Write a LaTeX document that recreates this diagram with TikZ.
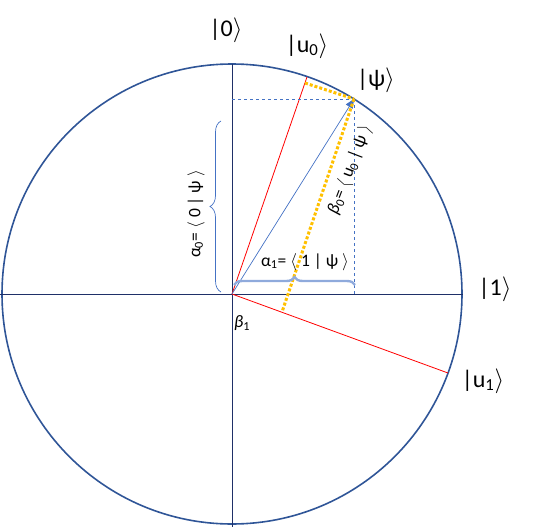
\documentclass[tikz,border=0pt]{standalone}
\usepackage{fontspec}
\setmainfont{Carlito}
\usetikzlibrary{arrows.meta,decorations.pathreplacing}

\begin{document}
\begin{tikzpicture}[x=1pt, y=-1pt,
  ket/.style = {font=\fontsize{24}{26}\selectfont},
  lab/.style = {font=\fontsize{17.5}{19}\selectfont, inner sep=0pt},
  axis/.style = {draw=navy, line width=1pt},
  basis/.style = {draw=red, line width=0.8pt},
  proj/.style = {draw=amber, line width=3pt, dotted},
  guide/.style = {draw=steel, line width=0.6pt, dashed}]
\definecolor{navy}{HTML}{1F3068}
\definecolor{ring}{HTML}{2F5597}
\definecolor{steel}{HTML}{4472C4}
\definecolor{pale}{HTML}{8FAADC}
\definecolor{amber}{HTML}{FFC000}
\useasboundingbox (0,0) rectangle (541,527);
\coordinate (O) at (232,294);
\coordinate (top) at (232,64);
\coordinate (bot) at (232,527);
\coordinate (left) at (0,294);
\coordinate (right) at (463,294);
\coordinate (psi) at (354,99);
\coordinate (u0) at (307,77);
\coordinate (u1) at (448,373);
\coordinate (f0) at (305,83);
\coordinate (f1) at (282,312);
\coordinate (px) at (354,294);
\coordinate (py) at (232,99);
% circle and axes
\draw[ring, line width=1.6pt] (O) circle[radius=230pt];
\draw[axis] (top) -- (bot);
\draw[axis] (left) -- (right);
% basis u
\draw[basis] (O) -- (u0);
\draw[basis] (O) -- (u1);
% state vector
\draw[guide] (py) -- (psi);
\draw[guide] (psi) -- (px);
\draw[steel, line width=0.7pt, -{Triangle[length=9pt,width=8pt]}] (O) -- (psi);
\draw[proj] (f0) -- (psi);
\draw[proj] (psi) -- (f1);
% braces
\draw[steel, line width=0.7pt, decorate, decoration={brace, amplitude=11pt}] (221,292) -- (221,121);
\draw[pale, line width=2.4pt, decorate, decoration={brace, amplitude=8pt}] (234,285) -- (355,285);
% labels
\node[ket] (k0) at (226,30) {|0$\rangle$};
\node[ket] (ku0) at (307,46) {|u\textsubscript{0}$\rangle$};
\node[ket] (kpsi) at (376,80) {|ψ$\rangle$};
\node[ket] (k1) at (495,289) {|1$\rangle$};
\node[ket] (ku1) at (483,381) {|u\textsubscript{1}$\rangle$};
\node[lab, rotate=90] (a0) at (196,214) {α\textsubscript{0}= $\langle$ 0 | ψ $\rangle$};
\node[lab] (a1) at (305,262) {α\textsubscript{1}= $\langle$ 1 | ψ $\rangle$};
\node[lab, rotate=69] (b0) at (350,170) {\textit{β}\textsubscript{0}= $\langle$ u\textsubscript{0} | ψ $\rangle$};
\node[lab] (b1) at (242,323) {\textit{β}\textsubscript{1}};
\end{tikzpicture}
\end{document}
